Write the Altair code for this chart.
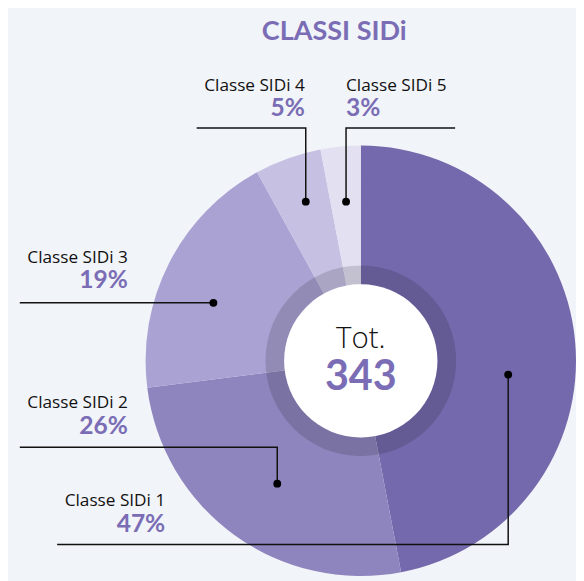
import altair as alt
import pandas as pd
import math

# ---- data ----
categories = ["Classe SIDi 1", "Classe SIDi 2", "Classe SIDi 3", "Classe SIDi 4", "Classe SIDi 5"]
percentages = [47, 26, 19, 5, 3]
total = 343
title_text = "CLASSI SIDi"
center_label = "Tot."

# ---- style / layout ----
W, H = 568, 560
CX, CY = 359, 354
R_OUT, R_RING, R_WHITE = 219, 97, 78
colors = ["#7569ad", "#8f85be", "#aaa2d3", "#c6c0e3", "#e3e0f1"]
purple = "#7a6db5"
bg = "#f1f4f8"
NAME_FONT = "Open Sans"
NUM_FONT = "Lato"

# callout geometry (pixel space): text x, name baseline, align, leader path
callouts = {
    "Classe SIDi 1": (160, 502, "right", [(50, 541), (509, 541), (509, 368)]),
    "Classe SIDi 2": (122, 402, "right", [(12, 442), (274, 442), (274, 479)]),
    "Classe SIDi 3": (122, 254, "right", [(12, 295), (209, 295)]),
    "Classe SIDi 4": (302, 79, "right", [(192, 117), (303, 117), (303, 192)]),
    "Classe SIDi 5": (344, 79, "left", [(455, 117), (344, 117), (344, 192)]),
}

pie_df = pd.DataFrame({"cat": categories, "pct": percentages, "idx": range(len(categories))})

rows_txt, rows_path, rows_dot = [], [], []
for c, p in zip(categories, percentages):
    tx, ty, al, path = callouts[c]
    rows_txt.append({"cat": c, "pctlabel": f"{p}%", "x": tx, "y": ty, "y2": ty + 26, "align": al})
    for i, (px, py) in enumerate(path):
        rows_path.append({"cat": c, "o": i, "x": px, "y": py})
    rows_dot.append({"cat": c, "x": path[-1][0], "y": path[-1][1]})
txt_df = pd.DataFrame(rows_txt)
path_df = pd.DataFrame(rows_path)
dot_df = pd.DataFrame(rows_dot)

xs = alt.Scale(domain=[0, W], nice=False, zero=False)
ys = alt.Scale(domain=[0, H], nice=False, zero=False, reverse=True)

pie = alt.Chart(pie_df).mark_arc(outerRadius=R_OUT, innerRadius=0, stroke=None).encode(
    theta=alt.Theta("pct:Q", stack=True),
    order=alt.Order("idx:O"),
    color=alt.Color("cat:N", scale=alt.Scale(domain=categories, range=colors), legend=None),
    x=alt.value(CX), y=alt.value(CY),
)

ring = alt.Chart(pie_df.head(1)).mark_arc(
    innerRadius=R_WHITE, outerRadius=R_RING, theta=0, theta2=2 * math.pi, fill="#000000", fillOpacity=0.14
).encode(x=alt.value(CX), y=alt.value(CY))
white = alt.Chart(pie_df.head(1)).mark_arc(
    innerRadius=0, outerRadius=R_WHITE, theta=0, theta2=2 * math.pi, fill="#ffffff"
).encode(x=alt.value(CX), y=alt.value(CY))

lines = alt.Chart(path_df).mark_line(color="#111111", strokeWidth=1.5).encode(
    x=alt.X("x:Q", scale=xs, axis=None),
    y=alt.Y("y:Q", scale=ys, axis=None),
    detail="cat:N",
    order="o:O",
)
dots = alt.Chart(dot_df).mark_circle(color="#000000", opacity=1, size=64).encode(
    x=alt.X("x:Q", scale=xs, axis=None), y=alt.Y("y:Q", scale=ys, axis=None)
)

def labels(align):
    d = txt_df[txt_df["align"] == align]
    names = alt.Chart(d).mark_text(align=align, baseline="alphabetic", font=NAME_FONT, fontSize=17.5, color="#111111").encode(
        x=alt.X("x:Q", scale=xs, axis=None), y=alt.Y("y:Q", scale=ys, axis=None), text="cat:N"
    )
    pcts = alt.Chart(d).mark_text(align=align, baseline="alphabetic", font=NUM_FONT, fontSize=25, fontWeight="bold", color=purple).encode(
        x=alt.X("x:Q", scale=xs, axis=None), y=alt.Y("y2:Q", scale=ys, axis=None), text="pctlabel:N"
    )
    return names + pcts

title_df = pd.DataFrame({"t": [title_text], "x": [332], "y": [28]})
title = alt.Chart(title_df).mark_text(align="center", baseline="alphabetic", font=NUM_FONT, fontSize=27.5, fontWeight="bold", color=purple).encode(
    x=alt.X("x:Q", scale=xs, axis=None), y=alt.Y("y:Q", scale=ys, axis=None), text="t:N"
)
center_df = pd.DataFrame({"t": [center_label], "n": [str(total)], "x": [CX], "y": [341], "y2": [384]})
tot = alt.Chart(center_df).mark_text(align="center", baseline="alphabetic", font=NAME_FONT, fontSize=30, fontWeight=300, color="#111111").encode(
    x=alt.X("x:Q", scale=xs, axis=None), y=alt.Y("y:Q", scale=ys, axis=None), text="t:N"
)
num = alt.Chart(center_df).mark_text(align="center", baseline="alphabetic", font=NUM_FONT, fontSize=42, fontWeight="bold", color=purple).encode(
    x=alt.X("x:Q", scale=xs, axis=None), y=alt.Y("y2:Q", scale=ys, axis=None), text="n:N"
)

chart = alt.layer(pie, ring, white, lines, dots, labels("right"), labels("left"), title, tot, num).properties(
    width=W, height=H, padding=0, background=bg
).configure_view(stroke=None)

chart.save("out.html", embed_options={"renderer": "svg", "actions": False})
